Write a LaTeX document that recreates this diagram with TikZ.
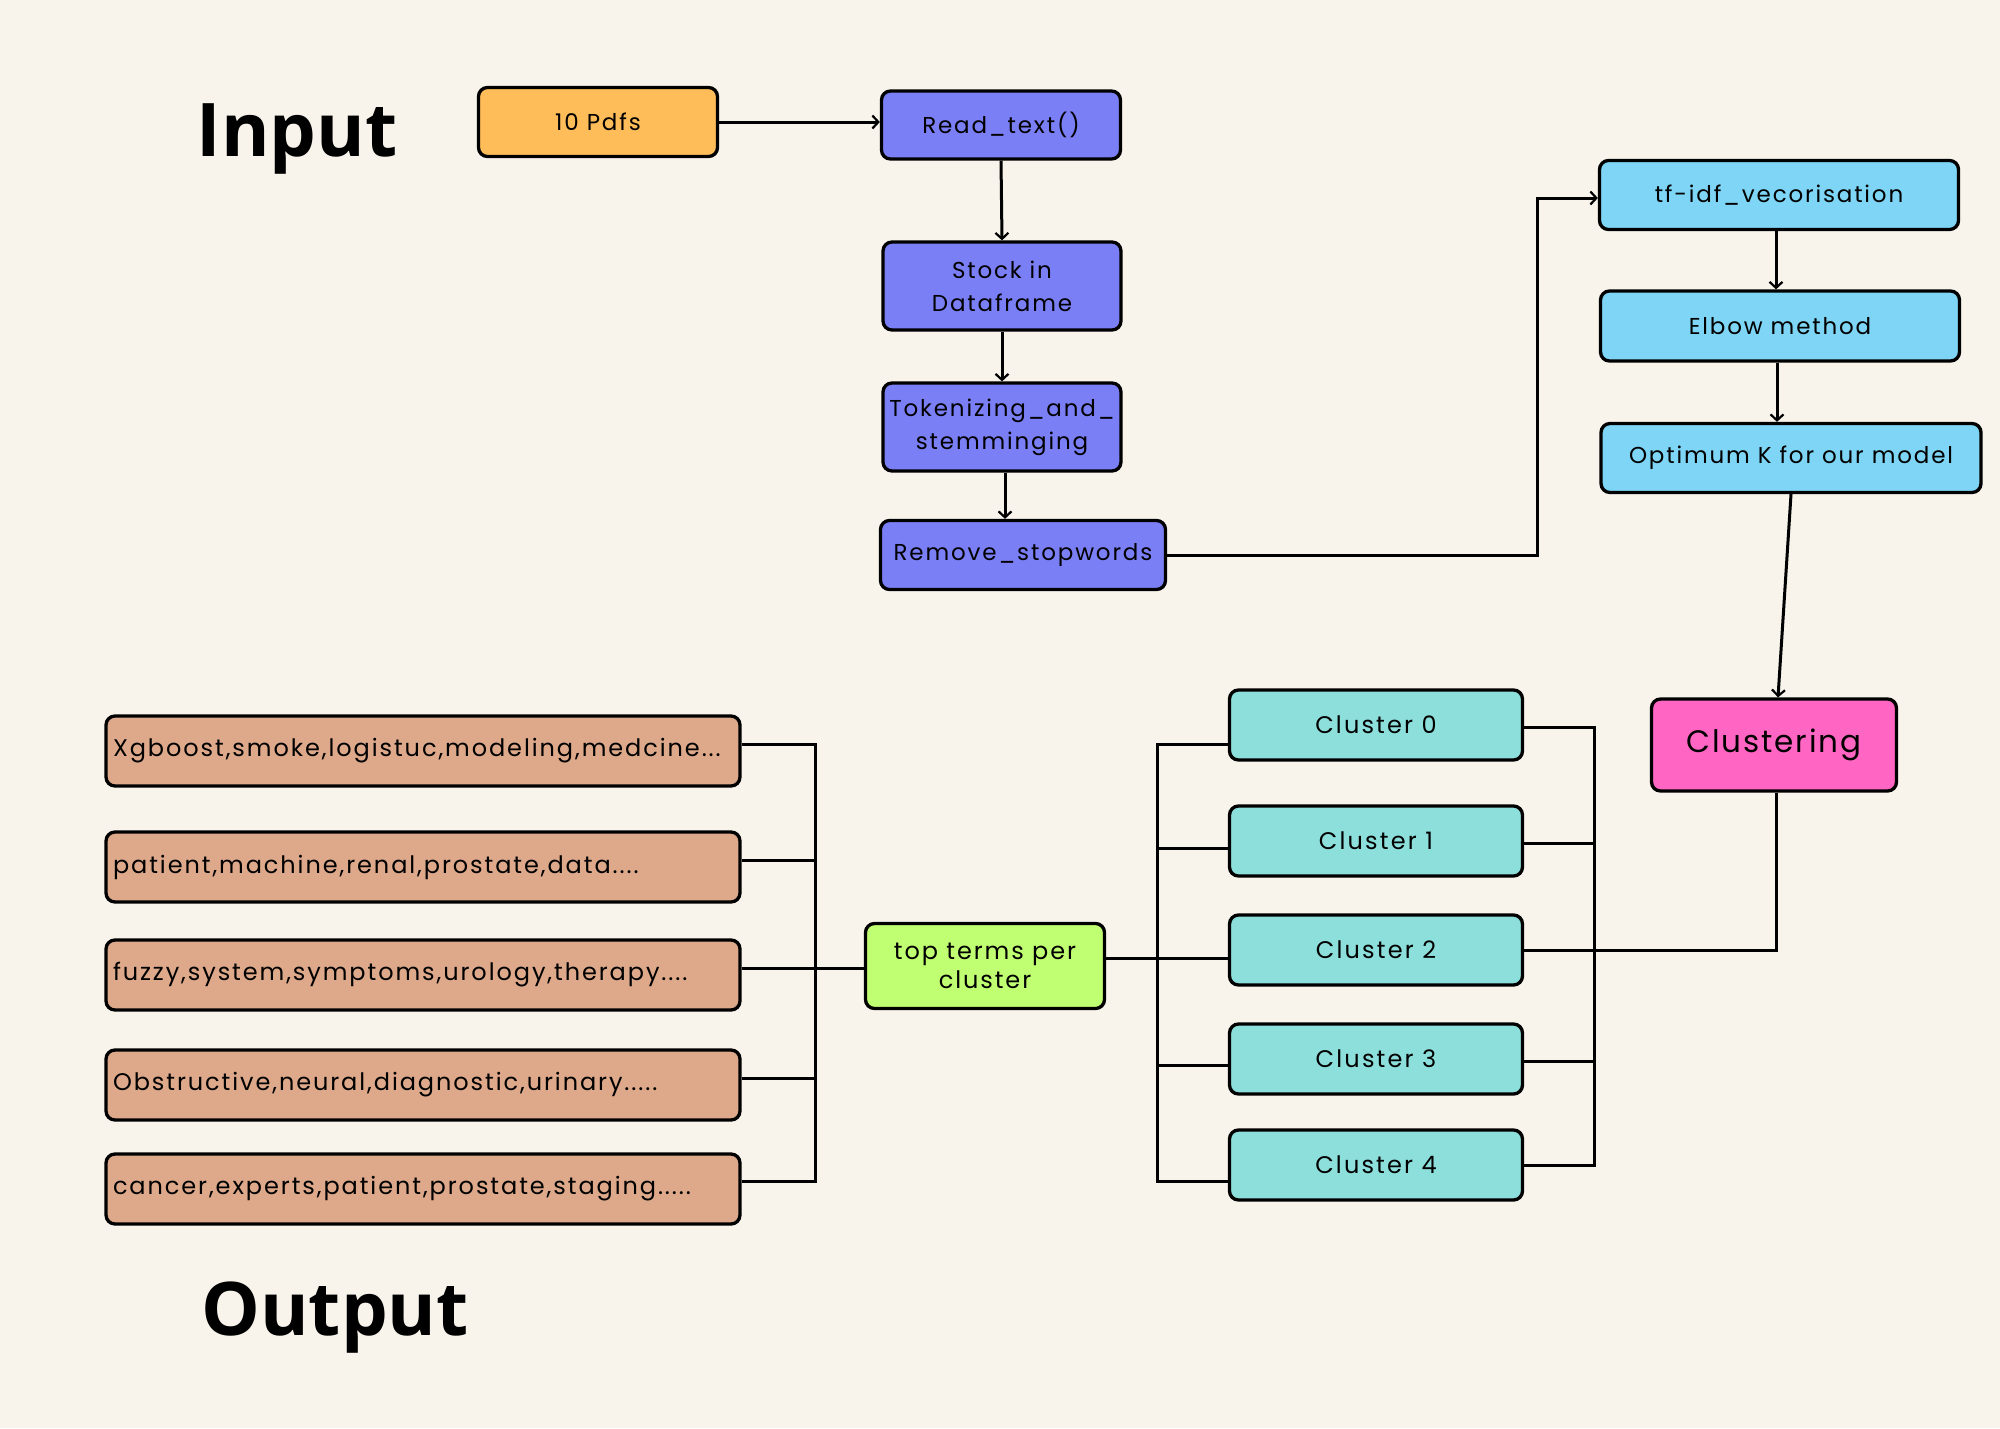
\documentclass[tikz,border=0pt]{standalone}
\usepackage{fontspec}
\usetikzlibrary{arrows.meta}
\newfontfamily\titlefont{Open Sans}
\newfontfamily\geofont{Poppins}[LetterSpace=8]
\newfontfamily\clfont{Poppins}[LetterSpace=9]
\newfontfamily\outfont{Poppins}[LetterSpace=8]
\newfontfamily\bigfont{Poppins}[LetterSpace=6]
\definecolor{bg}{RGB}{248,244,236}
\definecolor{orng}{RGB}{255,189,89}
\definecolor{purp}{RGB}{123,127,245}
\definecolor{sky}{RGB}{126,213,245}
\definecolor{pink}{RGB}{255,102,196}
\definecolor{teal}{RGB}{141,223,220}
\definecolor{lime}{RGB}{193,255,114}
\definecolor{tan}{RGB}{221,169,138}
\tikzset{
  x=1pt,y=-1pt,
  box/.style={draw=black,line width=3.3pt,rounded corners=9pt,inner sep=0pt,align=center},
  geo/.style={font=\geofont\fontsize{23}{33}\selectfont},
  clu/.style={font=\clfont\fontsize{24}{30}\selectfont},
  conn/.style={line width=3pt,draw=black},
  arr/.style={conn,-{Straight Barb[length=6pt,width=13pt,line width=2.2pt]}},
  title/.style={font=\titlefont\bfseries\fontsize{74}{80}\selectfont,inner sep=0pt}
}
\begin{document}
\begin{tikzpicture}
\fill[bg] (0,0) rectangle (2000,1428);
\useasboundingbox (0,0) rectangle (2000,1428);

\node[title] (tin) at (297,139) {Input};
\node[title] (tout) at (335,1318) {Output};

% top pipeline
\node[box,geo,fill=orng,minimum width=239pt,minimum height=69pt] (pdfs) at (598,122) {10 Pdfs};
\node[box,geo,fill=purp,minimum width=239pt,minimum height=68pt] (read) at (1001,125) {Read\_text()};
\node[box,geo,fill=purp,minimum width=238pt,minimum height=88pt] (stock) at (1002,286) {Stock in\\Dataframe};
\node[box,geo,fill=purp,minimum width=238pt,minimum height=88pt] (token) at (1002,427) {Tokenizing\_and\_\\stemminging};
\node[box,geo,fill=purp,minimum width=285pt,minimum height=69pt] (remove) at (1023,555) {Remove\_stopwords};

\node[box,geo,fill=sky,minimum width=359pt,minimum height=69pt] (tfidf) at (1779,195) {tf-idf\_vecorisation};
\node[box,geo,fill=sky,minimum width=359pt,minimum height=70pt] (elbow) at (1780,326) {Elbow method};
\node[box,geo,fill=sky,minimum width=380pt,minimum height=69pt] (optk) at (1791,458) {Optimum K for our model};
\node[box,fill=pink,minimum width=245pt,minimum height=92pt,font=\bigfont\fontsize{31}{36}\selectfont] (clust) at (1774,745) {Clustering};

% clusters
\node[box,clu,fill=teal,minimum width=293pt,minimum height=70pt] (c0) at (1376,725) {Cluster 0};
\node[box,clu,fill=teal,minimum width=293pt,minimum height=70pt] (c1) at (1376,841) {Cluster 1};
\node[box,clu,fill=teal,minimum width=293pt,minimum height=70pt] (c2) at (1376,950) {Cluster 2};
\node[box,clu,fill=teal,minimum width=293pt,minimum height=70pt] (c3) at (1376,1059) {Cluster 3};
\node[box,clu,fill=teal,minimum width=293pt,minimum height=70pt] (c4) at (1376,1165) {Cluster 4};

\node[box,fill=lime,minimum width=239pt,minimum height=85pt,font=\outfont\fontsize{24}{29}\selectfont] (top) at (985,966) {top terms per\\cluster};

% outputs
\tikzset{obox/.style={box,font=\outfont\fontsize{24}{28}\selectfont,fill=tan,minimum width=634pt,minimum height=70pt,text width=620pt,inner xsep=7pt,align=left}}
\node[obox] (o1) at (423,751) {Xgboost,smoke,logistuc,modeling,medcine...};
\node[obox] (o2) at (423,867) {patient,machine,renal,prostate,data....};
\node[obox] (o3) at (423,975) {fuzzy,system,symptoms,urology,therapy....};
\node[obox] (o4) at (423,1085) {Obstructive,neural,diagnostic,urinary.....};
\node[obox] (o5) at (423,1189) {cancer,experts,patient,prostate,staging.....};

% bus coordinates
\coordinate (bl) at (815,0);
\coordinate (bm) at (1157,0);
\coordinate (br) at (1594,0);
\coordinate (rt) at (1537,0);

% arrows top
\draw[arr] (pdfs.east) -- (pdfs.east -| read.west);
\draw[arr] (read.south) -- (stock.north);
\draw[arr] (stock.south) -- (token.north);
\draw[arr] ([xshift=3pt]token.south) -- ([xshift=3pt]remove.north -| token.south);
\draw[arr] (remove.east) -- (remove.east -| rt) |- ([yshift=-3pt]tfidf.west);
\draw[arr] ([xshift=-3pt]tfidf.south) -- ([xshift=-3pt]tfidf.south |- elbow.north);
\draw[arr] ([xshift=-3pt]elbow.south) -- ([xshift=-3pt]elbow.south |- optk.north);
\draw[arr] (optk.south) -- ([xshift=4pt]clust.north);

% left bus
\draw[conn] ([yshift=7pt]o1.east) -| ([yshift=8pt]o5.east -| bl) -- ([yshift=8pt]o5.east);
\draw[conn] ([yshift=7pt]o2.east) -- ([yshift=7pt]o2.east -| bl);
\draw[conn] ([yshift=7pt]o4.east) -- ([yshift=7pt]o4.east -| bl);
\draw[conn] ([yshift=7pt]o3.east) -- ([yshift=7pt]o3.east -| bl) -- ([yshift=-2pt]top.west -| bl) -- ([yshift=-2pt]top.west);

% middle bus
\draw[conn] ([yshift=-19pt]c0.west) -- ([yshift=-19pt]c0.west -| bm) -- ([yshift=-16pt]c4.west -| bm) -- ([yshift=-16pt]c4.west);
\draw[conn] ([yshift=-7pt]c1.west) -- ([yshift=-7pt]c1.west -| bm);
\draw[conn] ([yshift=-6pt]c3.west) -- ([yshift=-6pt]c3.west -| bm);
\draw[conn] ([yshift=8pt]top.east) -- ([yshift=-8pt]c2.west);

% right bus
\draw[conn] ([yshift=-2pt]c0.east) -| (c4.east -| br) -- (c4.east);
\draw[conn] ([yshift=-2pt]c1.east) -- ([yshift=-2pt]c1.east -| br);
\draw[conn] ([yshift=-2pt]c3.east) -- ([yshift=-2pt]c3.east -| br);

% clustering to cluster 2
\draw[conn] ([xshift=2pt]clust.south) |- (c2.east);
\end{tikzpicture}
\end{document}
